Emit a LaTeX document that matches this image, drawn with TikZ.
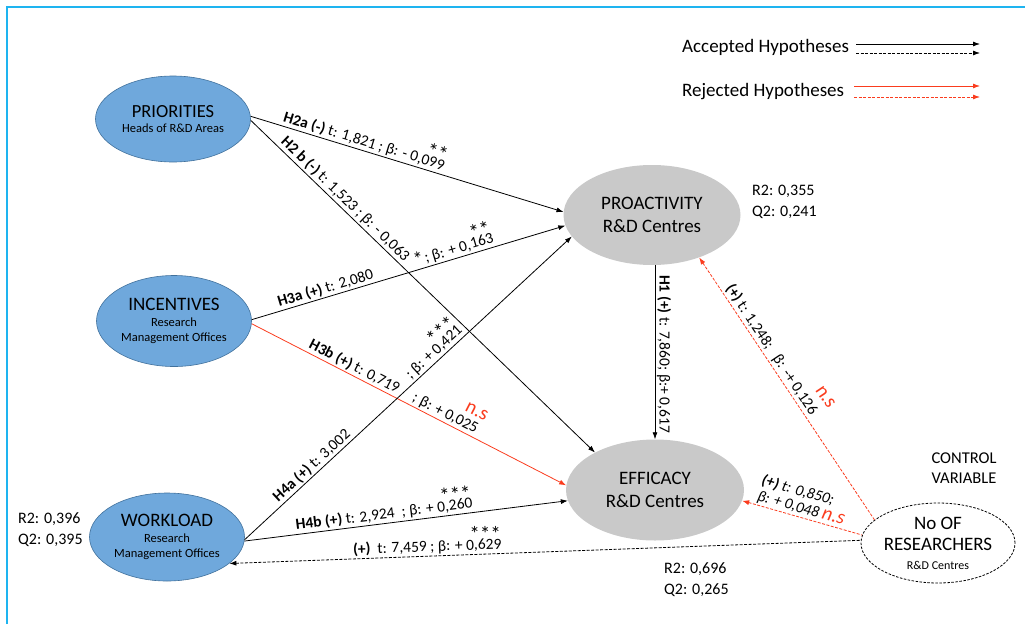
\documentclass[tikz,border=0pt]{standalone}
\usepackage{fontspec}
\setmainfont{Carlito}
\usetikzlibrary{shapes.geometric,arrows.meta}

\definecolor{ovalblue}{RGB}{111,168,220}
\definecolor{ovalline}{RGB}{65,113,156}
\definecolor{ovalgray}{RGB}{201,201,201}
\definecolor{rejred}{RGB}{250,60,30}
\definecolor{framecol}{RGB}{30,180,240}

\newcommand\fsz[2]{\fontsize{#1}{#2}\selectfont}
\newcommand\sigstars[1]{\llap{\raisebox{1.1ex}{\fsz{21}{21}#1}}}

\tikzset{
  construct/.style={ellipse, fill=ovalblue, draw=ovalline, line width=0.6pt,
    align=center, inner sep=0pt, minimum width=155pt, minimum height=86pt,
    font=\fsz{12.5}{15.5}},
  outcome/.style={ellipse, fill=ovalgray, align=center, inner sep=0pt,
    minimum width=178pt, minimum height=101pt, font=\fsz{19}{23}},
  controlvar/.style={ellipse, draw, line width=0.8pt, dash pattern=on 2.5pt off 1.5pt,
    align=center, inner sep=0pt, minimum width=154pt, minimum height=80pt,
    font=\fsz{19}{21}},
  tip/.style={-{Latex[length=7pt,width=5pt]}},
  rtip/.style={{Latex[length=7pt,width=5pt]}-},
  accepted/.style={line width=0.8pt, black},
  rejected/.style={line width=0.8pt, rejred},
  dotline/.style={dash pattern=on 3pt off 1.5pt},
  lbl/.style={sloped, above, inner sep=1.5pt, text=black, font=\fsz{15.5}{18}},
  nslbl/.style={sloped, inner sep=0pt, text=rejred, font=\fsz{20}{20}},
  stat/.style={anchor=base west, font=\fsz{16}{19}, inner sep=0pt},
}

\begin{document}
\begin{tikzpicture}[x=1pt,y=-1pt]
\useasboundingbox (0,0) rectangle (1025,624);
\draw[framecol, line width=1.5pt] (7,624) -- (7,7) -- (1025,7);

% constructs
\node[construct] (pri) at (173,119)
  {{\fsz{18.5}{20}PRIORITIES}\\Heads of R\&D Areas};
\node[construct, minimum height=91pt] (inc) at (174,321)
  {{\fsz{19}{20}INCENTIVES}\\Research\\Management Offices};
\node[construct, minimum height=88pt] (wl) at (167,537)
  {{\fsz{19}{20}WORKLOAD}\\Research\\Management Offices};
\node[outcome, minimum width=177pt, minimum height=100pt] (pro) at (652,215)
  {PROACTIVITY\\R\&D Centres};
\node[outcome] (eff) at (655,490)
  {EFFICACY\\R\&D Centres};
\node[controlvar] (nr) at (938,543)
  {No OF\\RESEARCHERS\\[-2pt]{\fsz{12}{14}R\&D Centres}};

% explained variance and predictive relevance
\node[stat] (pro-r) at (752,195) {R2: 0,355};
\node[stat] (pro-q) at (752,216) {Q2: 0,241};
\node[stat] (wl-r) at (18,523) {R2: 0,396};
\node[stat] (wl-q) at (18,544) {Q2: 0,395};
\node[stat] (eff-r) at (664,573) {R2: 0,696};
\node[stat] (eff-q) at (664,594) {Q2: 0,265};
\node[align=center, font=\fsz{16.5}{19.5}] (ctrl) at (964,468) {CONTROL\\VARIABLE};

% hypothesised paths
\draw[accepted, tip] (pri.2) --
  node[lbl, pos=0.354] {\textbf{H2a (-)} t: 1,821 ; β: - 0,099\sigstars{**}} (pro.178);
\draw[accepted, tip] (pri.-1) --
  node[lbl, pos=0.267] {\textbf{H2 b (-)} t: 1,523 ; β: - 0,063\raisebox{0.4ex}{\fsz{20}{20}*}} (eff.148);
\draw[accepted, tip] (inc.1) --
  node[lbl, pos=0.243] {\textbf{H3a (+)} t: 2,080}
  node[lbl, pos=0.669] {; β: + 0,163\sigstars{**}} (pro.187);
\draw[rejected, tip] (inc.-2) --
  node[lbl, pos=0.314] {\textbf{H3b (+)} t: 0,719}
  node[lbl, pos=0.603] {; β: + 0,025}
  node[nslbl, above=19pt, pos=0.68] {n.s} (eff.177);
\draw[accepted, tip] (wl.-2) --
  node[lbl, pos=0.223] {\textbf{H4a (+)} t: 3,002}
  node[lbl, pos=0.597] {; β: + 0,421\sigstars{***}} (pro.195);
\draw[accepted, tip] (wl.-3) --
  node[lbl, pos=0.435] {\textbf{H4b (+)} t: 2,924 \ ; β: + 0,260\sigstars{***}} (eff.187);
\draw[accepted, tip] (eff.north |- pro.south) --
  node[lbl, pos=0.51] {\textbf{H1 (+)} t: 7,860; β:+ 0,617} (eff.north);

% control variable paths
\draw[accepted, dotline, rtip] (wl.337) --
  node[lbl, pos=0.314] {\textbf{(+)} \ t: 7,459 ; β: + 0,629\sigstars{***}} (nr.178);
\draw[rejected, dotline, rtip] (pro.318) --
  node[lbl, pos=0.37] {\textbf{(+)} t: 1,248;\ \ \ β: -+ 0,126}
  node[nslbl, above=22pt, pos=0.59] {n.s} (nr.160);
\draw[rejected, dotline, rtip] (eff.353) --
  node[lbl, pos=0.47, align=left, font=\fsz{15.5}{16}\itshape]
  {\textbf{(+)} t: 0,850;\\β: + 0,048 {\color{rejred}\fsz{20}{20}n.s}} (nr.174);

% legend
\node[anchor=base west, inner sep=0pt, font=\fsz{19}{22}] (acc-txt) at (682,52) {Accepted Hypotheses};
\node[anchor=base west, inner sep=0pt, font=\fsz{19}{22}] (rej-txt) at (682,96) {Rejected Hypotheses};
\coordinate (acc-a) at (856,44);  \coordinate (acc-b) at (980,44);
\coordinate (acc-c) at (856,53);  \coordinate (acc-d) at (980,53);
\coordinate (rej-a) at (854,86);  \coordinate (rej-b) at (980,86);
\coordinate (rej-c) at (854,97);  \coordinate (rej-d) at (980,97);
\draw[accepted, tip] (acc-a) -- (acc-b);
\draw[accepted, dotline, tip] (acc-c) -- (acc-d);
\draw[rejected, tip] (rej-a) -- (rej-b);
\draw[rejected, dotline, tip] (rej-c) -- (rej-d);
\end{tikzpicture}
\end{document}
